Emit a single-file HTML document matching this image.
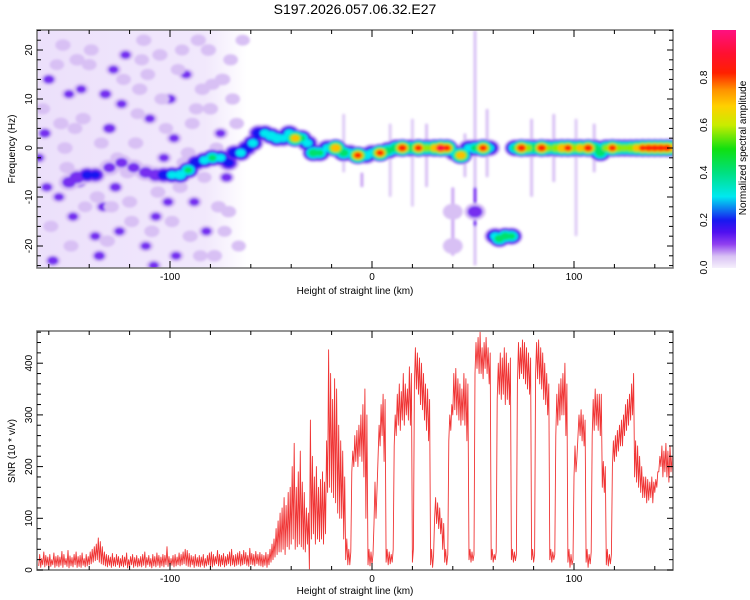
<!DOCTYPE html>
<html><head><meta charset="utf-8"><style>
html,body{margin:0;padding:0;background:#fff;}
svg{display:block;font-family:"Liberation Sans",sans-serif;}
</style></head><body>
<svg id="chart" width="750" height="600" viewBox="0 0 750 600" xmlns="http://www.w3.org/2000/svg">
<defs>
<filter id="blur" x="-20%" y="-20%" width="140%" height="140%"><feGaussianBlur stdDeviation="1.3"/></filter>
<clipPath id="clipTop"><rect x="37" y="30" width="636" height="238"/></clipPath>
<clipPath id="clipBot"><rect x="37" y="331" width="636" height="239"/></clipPath>
<linearGradient id="fade" x1="0" y1="0" x2="1" y2="0">
<stop offset="0" stop-color="#ece0fb"/><stop offset="0.8" stop-color="#f1e8fc"/><stop offset="1" stop-color="#ffffff"/>
</linearGradient>
<linearGradient id="cbar" x1="0" y1="1" x2="0" y2="0">
<stop offset="0" stop-color="#f6f0fc"/><stop offset="0.05" stop-color="#d8c0f4"/><stop offset="0.1" stop-color="#9040f0"/>
<stop offset="0.15" stop-color="#5010f0"/><stop offset="0.2" stop-color="#1818f0"/><stop offset="0.3" stop-color="#00e8f0"/>
<stop offset="0.4" stop-color="#00e080"/><stop offset="0.5" stop-color="#10e010"/><stop offset="0.6" stop-color="#c8ec00"/>
<stop offset="0.68" stop-color="#ffd000"/><stop offset="0.75" stop-color="#ff9000"/><stop offset="0.82" stop-color="#ff2000"/>
<stop offset="0.9" stop-color="#ff1030"/><stop offset="1" stop-color="#ff1080"/>
</linearGradient>
</defs>
<text x="355" y="14" font-size="14" text-anchor="middle">S197.2026.057.06.32.E27</text>
<rect x="37" y="30" width="210" height="238" fill="url(#fade)"/>
<g id="spec" clip-path="url(#clipTop)" filter="url(#blur)"></g>
<g id="axTop"></g>
<g id="snr" clip-path="url(#clipBot)"></g>
<g id="axBot"></g>
<rect x="712" y="30" width="24" height="238" fill="url(#cbar)"/>
<g id="cb"></g>
<text transform="translate(746,148) rotate(-90)" font-size="10" text-anchor="middle">Normalized spectral amplitude</text>
<text x="355" y="294" font-size="10" text-anchor="middle">Height of straight line (km)</text>
<text transform="translate(15,149) rotate(-90)" font-size="10" text-anchor="middle">Frequency (Hz)</text>
<text x="355" y="594" font-size="10" text-anchor="middle">Height of straight line (km)</text>
<text transform="translate(15,451) rotate(-90)" font-size="10" text-anchor="middle">SNR (10 * v/v)</text>
</svg>
<script>
// ---- data ----
const snrStartKm = -165;
const snrHi = [
30,22,35,28,25,30,20,33,26,28, 25,36,30,22,38,27,24,30,35,26, 28,33,22,30,26,35,40,45,50,62,
55,45,35,30,28,25,32,24,30,26, 22,28,25,33,20,26,30,24,28,22, 26,30,35,24,28,22,30,26,33,28,
25,30,28,45,26,22,28,30,25,33, 30,35,40,38,32,28,26,30,24,28, 25,30,22,28,33,35,30,26,38,30,
28,32,26,30,35,40,28,30,33,36, 30,38,34,28,42,32,30,36,30,34, 30,28,34,30,40,50,60,80,95,110,
120,140,125,150,160,200,245,160,190,230, 170,150,120,110,290,220,180,200,160,175, 190,170,250,426,380,330,370,350,280,250,
230,180,60,40,35,230,260,270,280,300, 320,350,300,40,35,30,170,160,280,320, 340,330,40,35,30,40,300,340,360,345,
380,360,350,393,380,40,430,420,410,400, 380,360,350,330,40,30,140,130,120,100, 90,40,30,300,320,380,390,370,360,350,
380,370,360,40,35,30,440,450,460,430, 440,450,430,420,40,30,35,400,420,410, 430,420,400,410,40,35,30,440,430,445,
440,430,420,410,40,30,440,445,430,420, 400,380,360,40,35,30,340,360,370,380, 400,360,40,30,20,240,220,300,310,300,
290,40,30,35,330,350,340,340,340,210, 200,40,30,30,250,260,270,280,290,300, 320,330,340,360,380,250,240,220,200,180,
180,175,170,180,170,175,190,220,240,230, 245,230,240,220,235];
const snrLo = [
8,5,10,6,9,4,7,10,5,8, 6,9,5,10,7,4,8,6,10,5, 7,5,9,6,8,10,12,15,18,20,
15,12,10,8,6,9,5,8,7,10, 5,8,6,9,4,7,10,5,8,6, 8,6,9,5,10,7,4,8,6,9,
5,8,6,10,7,5,9,6,8,10, 8,10,12,9,7,6,10,5,8,7, 6,9,5,8,10,7,6,9,12,8,
7,10,6,9,12,8,10,7,9,11, 8,10,12,9,7,11,10,8,12,9, 8,6,9,5,10,15,20,25,30,35,
35,40,30,45,40,50,60,40,45,50, 45,40,35,50,0,60,70,50,60,55, 60,50,70,150,160,150,140,130,110,100,
100,60,20,10,10,190,200,210,200,220, 210,180,100,10,8,10,90,100,220,240, 260,210,15,10,12,15,240,260,280,270,
290,280,300,290,280,15,360,350,340,320, 310,290,270,250,10,5,100,90,80,70, 40,15,10,250,270,300,310,300,290,280,
290,280,250,20,15,18,380,390,380,380, 370,390,380,360,20,15,20,330,340,330, 340,320,330,320,20,15,18,360,370,380,
370,360,350,340,20,15,380,370,360,350, 330,320,300,20,15,20,260,280,290,300, 300,260,15,5,10,180,190,260,260,250,
240,15,5,12,260,270,280,270,260,160, 150,10,8,12,200,210,220,230,240,240, 260,270,280,290,300,180,170,160,150,140,
140,130,135,140,130,150,160,190,200,180, 190,180,170,190,175];

const spKm = [-160,-158,-150,-145,-141,-138,-135,-132,-130,-128,-125,-122,-120,-118,-115,-112,-110,-107,-105,-103,-100,-97,-95,-92,-88,-86,-82,-80,-78,-75,-72,-70,-165,-162,-155,-153,-148,-143,-152,-137,-127,-117,-108,-98,-90,-84,-124,-133,-146,-113,
-163,-159,-156,-151,-147,-142,-139,-134,-131,-126,-123,-119,-116,-111,-106,-102,-99,-94,-91,-87,-83,-79,-76,-73,-69,-66,-161,-154,-149,-144,-140,-136,-129,-121,-114,-109,-104,-101,-96,-93,-89,-85,-81,-77,-74,-71,-67,-64];
const spHz = [14,-23,11,-7,-5,-6,-22,11,4,16,-17,19,-11,-4,12,-20,6,-14,19,-2,10,-22,-8,15,-11,22,-17,8,-22,3,-6,18,-2,3,-10,21,-14,6,0,-18,-8,1,-24,2,-18,12,9,-12,18,22,
8,-16,17,-4,4,-12,20,1,-19,-2,14,-15,7,15,-9,4,-15,20,-1,8,-6,13,-12,-17,10,-20,-8,5,-20,12,17,-10,-12,-5,18,-17,10,-11,16,-3,5,-22,20,0,14,-13,5,22];
const spAmp = [.12,.12,.1,.15,.18,.2,.12,.12,.14,.1,.1,.1,.08,.1,.08,.1,.1,.1,.08,.1,.12,.1,.08,.1,.1,.08,.1,.08,.08,.1,.12,.06,.1,.12,.1,.08,.1,.08,.08,.1,.12,.08,.1,.1,.08,.08,.1,.12,.08,.08,
.06,.07,.05,.08,.06,.05,.07,.06,.08,.05,.06,.07,.05,.06,.07,.05,.06,.05,.07,.06,.05,.06,.07,.05,.06,.05,.11,.09,.07,.1,.06,.08,.07,.09,.06,.08,.07,.1,.06,.09,.07,.06,.08,.05,.09,.07,.06,.05];

const trKm = [-150,-146,-141,-137,-130,-124,-118,-112,-107,-103,-99,-95,-91,-87,-83,-79,-75,-71,-68,-65,-62,-59,-56,-53,-50,-47,-44,-41,-38,-35,-32,-29,-26,-22,-18,-14,-11,-7,-3,0,4,8,12,15,19,23,27,31,34,37,41,44,48,51,55,58,71,74,77,80,84,87,91,94,97,100,103,107,110,113,116,119,122,125,128,131,134,137,140,143,146,148,61,63,66,69,51,40,40];
const trHz = [-7,-6,-5.5,-5.5,-4,-3,-4,-5,-5.5,-5.5,-5.5,-5.5,-4.5,-3,-2.5,-2,-2,-3,-1,-1,0,1,3,3,2.5,2,2,3,2,2,1,-1,-1,0,0,-1,-1,-1.5,-1.5,-1,-1,-0.5,0,0,0,0,0,0,0,0,-1,-1.5,0,0,0,0,0,0,0,0,0,0,0,0,0,0,0,0,0,-1,0,0,0,0,0,0,0,0,0,0,0,0,-18,-18.5,-18,-18,-13,-13,-20];
const trAmp = [.12,.15,.2,.18,.1,.1,.1,.12,.15,.22,.3,.35,.4,.25,.3,.4,.3,.2,.25,.3,.25,.3,.25,.3,.35,.35,.3,.3,.7,.4,.3,.45,.4,.3,.75,.45,.3,.8,.35,.3,.8,.45,.5,.85,.5,.8,.55,.7,.9,.8,.3,.75,.3,.4,.8,.3,.4,.85,.6,.5,.85,.55,.6,.75,.8,.6,.7,.85,.5,.45,.55,.8,.6,.55,.6,.7,.8,.85,.85,.85,.85,.75,.3,.45,.45,.4,.15,.08,.08];

const stKm = [51,51,40,-5,9,20,27,46,79,90,101,110,57,-14];
const stTop = [24,-8,-8,-5,5,6,5,3,6,7,6,5,8,7];
const stBot = [-24,-16,-22,-8,-10,-12,-8,-6,-10,-7,-18,-5,-6,-5];
const stAmp = [.05,.12,.06,.06,.04,.04,.05,.05,.05,.05,.04,.05,.05,.04];

const xTicksLabeled = [-100,0,100];
const hzTicksLabeled = [-20,-10,0,10,20];
const snrTicksLabeled = [0,100,200,300,400];
const cbTicks = [0.0,0.2,0.4,0.6,0.8];

// ---- scales ----
const X = km => 372 + km*2.02;
const YT = hz => 148 - hz*4.9;
const YB = s => 570 - s*0.517;
const CB = v => 267.5 - v*237.5;
const NS = "http://www.w3.org/2000/svg";
function mk(tag, attrs, parent){const e=document.createElementNS(NS,tag);for(const k in attrs)e.setAttribute(k,attrs[k]);parent.appendChild(e);return e;}

const stops=[[0,[246,240,252]],[0.05,[216,192,244]],[0.1,[144,64,240]],[0.15,[80,16,240]],[0.2,[24,24,240]],[0.3,[0,232,240]],[0.4,[0,224,128]],[0.5,[16,224,16]],[0.6,[200,236,0]],[0.68,[255,208,0]],[0.75,[255,144,0]],[0.82,[255,32,0]],[0.9,[255,16,48]],[1,[255,16,128]]];
function cmap(v){for(let i=1;i<stops.length;i++){if(v<=stops[i][0]){const a=stops[i-1],b=stops[i];const t=(v-a[0])/(b[0]-a[0]);const c=a[1].map((x,j)=>Math.round(x+(b[1][j]-x)*t));return `rgb(${c[0]},${c[1]},${c[2]})`;}}return "rgb(255,16,128)";}

// ---- spectrogram ----
const spec=document.getElementById('spec');
for(let i=0;i<stKm.length;i++){
  const r=mk('rect',{x:X(stKm[i])-1.5,y:YT(stTop[i]),width:3,height:YT(stBot[i])-YT(stTop[i]),fill:cmap(stAmp[i]),rx:1.5},spec);
  
  
}
const levels=[0.03,0.1,0.18,0.28,0.4,0.55,0.68,0.8,0.9];
function blob(km,hz,a,w,h,name){
  for(const L of levels){
    if(L>a) break;
    const f=1-0.75*L/(a+0.05);
    const e=mk('ellipse',{cx:X(km),cy:YT(hz),rx:w*f+1,ry:h*f+0.8,fill:cmap(L+0.02)},spec);
    
    
  }
}
for(let i=0;i<spKm.length;i++) blob(spKm[i],spHz[i],spAmp[i],8,6,'noise-speckle');
const order=trKm.map((_,i)=>i);
for(const L of levels){
  for(const i of order){
    const a=trAmp[i]; if(L>a) continue;
    const f=1-0.8*L/(a+0.05);
    const e=mk('ellipse',{cx:X(trKm[i]),cy:YT(trHz[i]),rx:11*f+1,ry:9*f+0.6,fill:cmap(L+0.02)},spec);
    
    
  }
}

// ---- snr line ----
const snrG=document.getElementById('snr');
let pts=[];
for(let i=0;i<snrHi.length;i++){
  const km=snrStartKm+i;
  pts.push(X(km).toFixed(1)+','+YB(snrLo[i]).toFixed(1));
  pts.push(X(km+0.5).toFixed(1)+','+YB(snrHi[i]).toFixed(1));
}
const line=mk('polyline',{points:pts.join(' '),fill:'none',stroke:'#f03535','stroke-width':0.9,'stroke-linejoin':'round'},snrG);



// ---- axes ----
function axes(g,top,bot,yFn,yMinor,yMax,yLabels,prefix){
  const fr=mk('rect',{x:37,y:top,width:636,height:bot-top,fill:'none',stroke:'#707070','stroke-width':1.5},g);
  
  
  for(let km=-160;km<=140;km+=20){
    const big=(km%100===0)?7:4;
    const t1=mk('line',{x1:X(km),x2:X(km),y1:bot,y2:bot-big,stroke:'#000','stroke-width':1},g);
    
    
    const t2=mk('line',{x1:X(km),x2:X(km),y1:top,y2:top+big,stroke:'#000','stroke-width':1},g);
    
    
  }
  for(const v of xTicksLabeled){
    const t=mk('text',{x:X(v),y:bot+12,'font-size':10,'text-anchor':'middle'},g);
    t.textContent=String(v);
    
    
  }
  for(let v=yMinor[0];v<=yMax;v+=yMinor[1]){
    const y=yFn(v); if(y<top-0.5||y>bot+0.5) continue;
    const big=yLabels.includes(v)?6:4;
    const a=mk('line',{x1:37,x2:37+big,y1:y,y2:y,stroke:'#000','stroke-width':1},g);
    
    
    const b=mk('line',{x1:673,x2:673-big,y1:y,y2:y,stroke:'#000','stroke-width':1},g);
    
    
  }
  for(const v of yLabels){
    const t=mk('text',{transform:`translate(32,${yFn(v)}) rotate(-90)`,'font-size':10,'text-anchor':'middle'},g);
    t.textContent=String(v);
    
    
  }
}
axes(document.getElementById('axTop'),30,268,YT,[-24,2],24,hzTicksLabeled,'top');
axes(document.getElementById('axBot'),331,570,YB,[0,20],460,snrTicksLabeled,'bottom');

const cb=document.getElementById('cb');
for(const v of cbTicks){
  const t=mk('text',{transform:`translate(707,${CB(v)}) rotate(-90)`,'font-size':10,'text-anchor':'middle'},cb);
  t.textContent=v.toFixed(1);
  
  
}
</script>
</body></html>
